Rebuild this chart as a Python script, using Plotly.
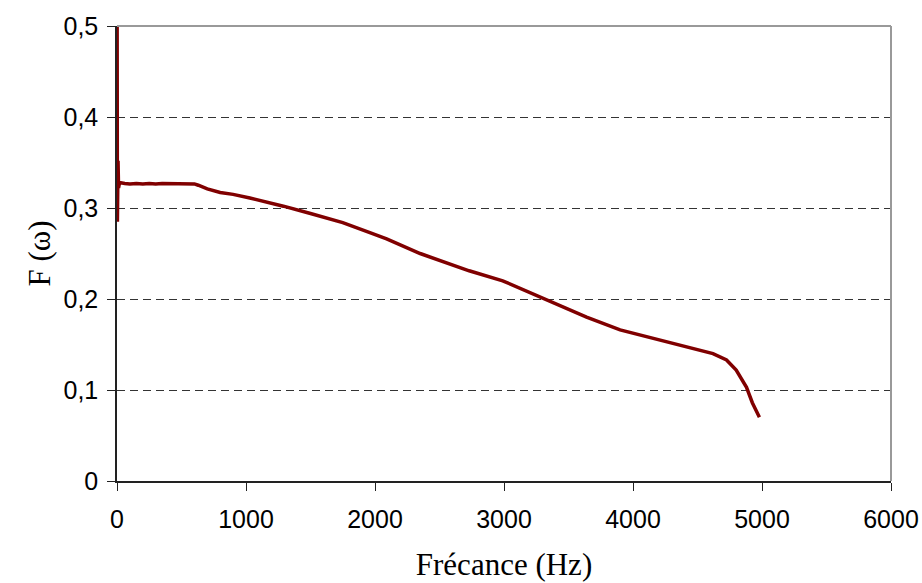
import plotly.graph_objects as go

freq_hz = [0, 3, 8, 12, 20, 60, 100, 150, 200, 250, 300, 350, 400, 450, 500, 550, 600,
           630, 700, 800, 900, 1030, 1150, 1290, 1500, 1750, 1960, 2090, 2350, 2730,
           2990, 3300, 3640, 3900, 4100, 4150, 4415, 4620, 4725, 4800, 4880, 4925, 4980]
f_omega = [0.62, 0.285, 0.352, 0.322, 0.328, 0.327, 0.3265, 0.327, 0.3265, 0.327, 0.3265,
           0.327, 0.327, 0.3265, 0.327, 0.3265, 0.3265, 0.325, 0.321, 0.317, 0.315, 0.311,
           0.307, 0.302, 0.294, 0.284, 0.273, 0.266, 0.250, 0.231, 0.220, 0.201, 0.180,
           0.166, 0.159, 0.157, 0.147, 0.140, 0.133, 0.122, 0.103, 0.086, 0.070]

x_ticks = [0, 1000, 2000, 3000, 4000, 5000, 6000]
y_ticks = [0, 0.1, 0.2, 0.3, 0.4, 0.5]

fig = go.Figure()
fig.add_trace(go.Scatter(x=freq_hz, y=f_omega, mode="lines",
                         line=dict(color="#800000", width=3.5), showlegend=False))

tick_font = dict(family="Liberation Sans, Arial", size=25, color="black")
title_font = dict(family="Liberation Serif, Times New Roman", size=31, color="black")

fig.update_layout(
    width=922, height=583,
    margin=dict(l=117, r=31, t=26, b=102),
    paper_bgcolor="white", plot_bgcolor="white",
    separators=", ",
    xaxis=dict(range=[0, 6000], tickvals=x_ticks, showgrid=False, zeroline=False,
               automargin=False,
               showline=True, linecolor="#222", linewidth=1.5,
               ticks="outside", ticklen=8, tickcolor="#222", tickfont=tick_font,
               ticklabelstandoff=7,
               title=dict(text="Frécance (Hz)", font=title_font, standoff=22)),
    yaxis=dict(range=[0, 0.5], tickvals=y_ticks, showgrid=True, gridcolor="#333",
               griddash="8px,5px", gridwidth=1, zeroline=False,
               automargin=False,
               showline=True, linecolor="#222", linewidth=1.5,
               ticks="outside", ticklen=8, tickcolor="#222", tickfont=tick_font,
               ticklabelstandoff=4,
               title=dict(text="F (ω)", font=title_font, standoff=4)),
    shapes=[
        dict(type="line", xref="paper", yref="paper", x0=0, x1=1, y0=1, y1=1,
             line=dict(color="#999", width=2)),
        dict(type="line", xref="paper", yref="paper", x0=1, x1=1, y0=0, y1=1,
             line=dict(color="#999", width=2)),
    ],
)

fig.write_html(
    "out.html",
    config={"displayModeBar": False},
    post_script="document.body.style.margin='0';document.body.style.overflow='hidden';",
)
